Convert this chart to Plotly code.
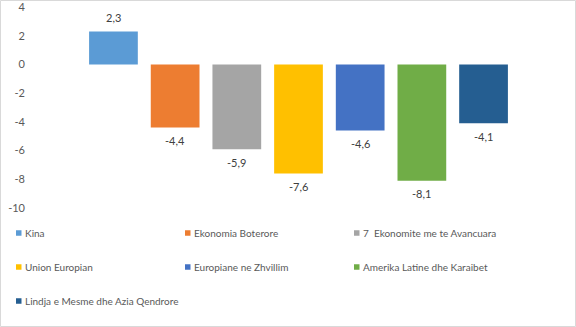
import plotly.graph_objects as go

series = ["Kina", "Ekonomia Boterore", "7  Ekonomite me te Avancuara", "Union Europian",
          "Europiane ne Zhvillim", "Amerika Latine dhe Karaibet", "Lindja e Mesme dhe Azia Qendrore"]
values = [2.3, -4.4, -5.9, -7.6, -4.6, -8.1, -4.1]
colors = ["#5B9BD5", "#ED7D31", "#A5A5A5", "#FFC000", "#4472C4", "#70AD47", "#255E91"]
y_ticks = [4, 2, 0, -2, -4, -6, -8, -10]

W, H = 576, 327
ML, MR, MT, MB = 30, 9, 7, 119
PW, PH = W - ML - MR, H - MT - MB

def px_x(p):
    return (p - ML) / PW

def px_y(p):
    return (H - MB - p) / PH

fig = go.Figure()
for i, (name, v, c) in enumerate(zip(series, values, colors)):
    fig.add_trace(go.Bar(x=[i], y=[v], name=name, marker=dict(color=c, line=dict(width=0)),
                         width=0.79, showlegend=False, hoverinfo="name+y"))
    fig.add_annotation(x=i, y=v, xref="x", yref="y", text=f"{v:.1f}".replace(".", ","),
                       showarrow=False, yanchor="middle", yshift=14 if v > 0 else -13,
                       font=dict(family="Lato, Calibri, sans-serif", size=11, color="#404040"))

# legend (manual, 3 columns)
col_x = [16, 185, 354]
row_y = [233, 267, 301]
shapes = []
for k, (name, c) in enumerate(zip(series, colors)):
    cx, ry = col_x[k % 3], row_y[k // 3]
    shapes.append(dict(type="rect", xref="paper", yref="paper",
                       x0=px_x(cx), x1=px_x(cx + 5.5), y0=px_y(ry - 2.75), y1=px_y(ry + 2.75),
                       fillcolor=c, line=dict(width=0)))
    fig.add_annotation(x=px_x(cx + 7), y=px_y(ry), xref="paper", yref="paper", text=name,
                       showarrow=False, xanchor="left", yanchor="middle",
                       font=dict(family="Lato, Calibri, sans-serif", size=10, color="#595959"))

# outer frame
shapes.append(dict(type="rect", xref="paper", yref="paper", x0=px_x(0.5), x1=px_x(575.5),
                   y0=px_y(326.5), y1=px_y(0.5), line=dict(color="#D9D9D9", width=1),
                   fillcolor="rgba(0,0,0,0)", layer="below"))

fig.update_layout(
    width=W, height=H, margin=dict(l=ML, r=MR, t=MT, b=MB, autoexpand=False),
    paper_bgcolor="white", plot_bgcolor="white",
    separators=",.", barmode="overlay", shapes=shapes,
    xaxis=dict(range=[-1.353, 7.353], visible=False, fixedrange=True, automargin=False),
    yaxis=dict(range=[-10, 4], tickvals=y_ticks, ticktext=[str(t) for t in y_ticks],
               showgrid=False, zeroline=False, showline=False, ticks="", automargin=False,
               tickfont=dict(family="Lato, Calibri, sans-serif", size=11, color="#595959"),
               ticklabelstandoff=4, ticklabeloverflow="allow"),
    showlegend=False,
)
fig.write_html("out.html")
